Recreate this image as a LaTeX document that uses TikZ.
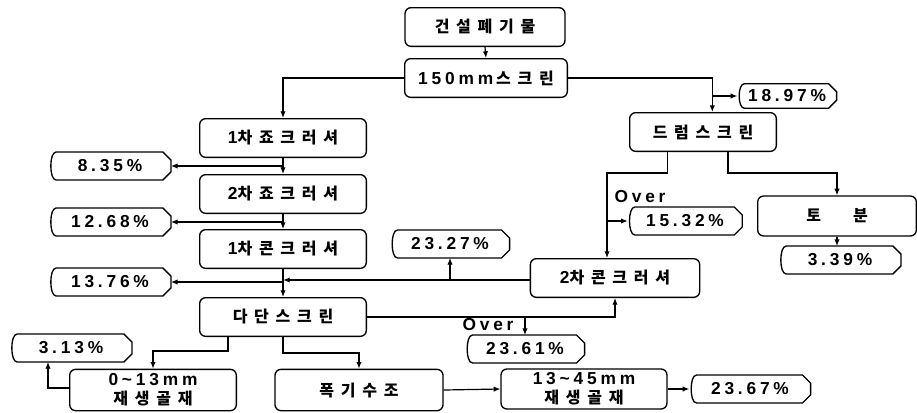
\documentclass[tikz,border=0pt]{standalone}
\usepackage{fontspec}
\usetikzlibrary{calc,arrows.meta}
\newfontfamily\krf{Noto Sans CJK KR}[LetterSpace=42]
\newfontfamily\latf{Liberation Sans}[LetterSpace=22]
\newcommand\K[1]{{\krf\bfseries\fontsize{12pt}{13pt}\selectfont #1}}
\newcommand\N[1]{{\latf\bfseries\fontsize{13pt}{13pt}\selectfont #1}}
\newcommand\dispshape[1]{%
 \draw[line width=1pt] ($(#1.north west)+(7,0)$) -- ($(#1.north east)+(-8,0)$) -- ($(#1.north east)+(0,8)$) -- ($(#1.south east)+(0,-8)$) -- ($(#1.south east)+(-8,0)$) -- ($(#1.south west)+(7,0)$) .. controls ($(#1.south west)$) and ($(#1.north west)$) .. cycle;}
\begin{document}
\begin{tikzpicture}[x=0.75pt,y=-0.75pt,
  every node/.style={font=\fontsize{11pt}{13pt}\selectfont, align=center, inner sep=0pt},
  box/.style={draw, line width=1pt, rounded corners=4.5pt, minimum width=125pt, minimum height=29pt},
  disp/.style={minimum width=91pt, minimum height=20.5pt},
  arr/.style={line width=0.9pt, -{Latex[length=5pt,width=4pt]}}]
\useasboundingbox (0,0) rectangle (917,412);
% process boxes
\node[box, minimum width=120pt] (src) at (485,27) {\K{건설폐기물}};
\node[box, minimum width=122pt] (s150) at (486,78) {\N{150mm}\hspace{0.2em}\K{스크린}};
\node[box, minimum width=110pt] (drum) at (703,132) {\K{드럼스크린}};
\node[box] (j1) at (283,138) {\N{1}\K{차죠크러셔}};
\node[box] (j2) at (283,194) {\N{2}\K{차죠크러셔}};
\node[box] (c1) at (283,249) {\N{1}\K{차콘크러셔}};
\node[box, minimum width=119pt, minimum height=30pt] (tob) at (837,216) {\K{토\hspace{2em}분}};
\node[box, minimum width=127pt] (c2) at (615,278) {\N{2}\K{차콘크러셔}};
\node[box] (dadan) at (283,317) {\K{다단스크린}};
\node[box, minimum height=31pt] (a013) at (153,390) {\N{0\char`~13mm}\\[1.5pt]\K{재생골재}};
\node[box, minimum width=126pt, minimum height=31pt] (pok) at (359,390) {\K{폭기수조}};
\node[box, minimum width=124.5pt, minimum height=30pt] (a1345) at (584,389) {\N{13\char`~45mm}\\[1.5pt]\K{재생골재}};
% percentage boxes
\node[disp, minimum width=74pt, minimum height=18pt] (p1897) at (787,96) {\N{18.97\%}};
\node[disp] (p835) at (110,166) {\N{8.35\%}};
\node[disp] (p1268) at (110,222) {\N{12.68\%}};
\node[disp] (p1376) at (110,282) {\N{13.76\%}};
\node[disp, minimum width=89pt] (p2327) at (450,244) {\N{23.27\%}};
\node[disp, minimum width=85.5pt] (p1532) at (685,221) {\N{15.32\%}};
\node[disp] (p339) at (840,260) {\N{3.39\%}};
\node[disp, minimum width=89pt] (p2361) at (525,349) {\N{23.61\%}};
\node[disp] (p313) at (71,348) {\N{3.13\%}};
\node[disp, minimum width=90.5pt] (p2367) at (750,389) {\N{23.67\%}};
\foreach \n in {p1897,p835,p1268,p1376,p2327,p1532,p339,p2361,p313,p2367} {\dispshape{\n}}
% labels
\node (over1) at (640,197) {\N{Over}};
\node (over2) at (488,325) {\N{Over}};
% connectors
\draw[arr] (src.south) -- (s150.north);
\draw[arr] (s150.west) -| (j1.north);
\draw[arr] (s150.east) -| ([xshift=7pt]drum.north);
\draw[arr] ([xshift=7pt]drum.north |- p1897.west) -- (p1897.west);
\draw[arr] (j1.south) -- (j2.north);
\draw[arr] (j1.south |- p835.east) -- (p835.east);
\draw[arr] (j2.south) -- (c1.north);
\draw[arr] (j2.south |- p1268.east) -- (p1268.east);
\draw[arr] (c1.south) -- (dadan.north);
\draw[arr] (c1.south |- p1376.east) -- (p1376.east);
\draw[arr] ([yshift=-1.5pt]c2.west) -- ([yshift=-1.5pt]c2.west -| c1.south);
\draw[arr] ([yshift=-1.5pt]c2.west -| p2327.south) -- (p2327.south);
\draw[arr] ([xshift=-26.6pt]drum.south) -- ++(0,21) -| ([xshift=-6pt]c2.north);
\draw[arr] ([xshift=-6pt]c2.north |- p1532.west) -- (p1532.west);
\draw[arr] ([xshift=18.75pt]drum.south) -- ++(0,21) -| (tob.north);
\draw[arr] (tob.south) -- (tob.south |- p339.north);
\draw[arr] (dadan.east) -- (dadan.east -| c2.south) -- (c2.south);
\draw[arr] (dadan.east -| p2361.north) -- (p2361.north);
\draw[arr] ([xshift=-41.25pt]dadan.south) -- ++(0,14) -| (a013.north);
\draw[arr] (dadan.south) -- ++(0,16) -| (pok.north);
\draw[arr] ([yshift=1.5pt]a013.west) -| ([xshift=-17.25pt]p313.south);
\draw[arr] (pok.east) -- (a1345.west);
\draw[arr] (a1345.east) -- (p2367.west);
\end{tikzpicture}
\end{document}
